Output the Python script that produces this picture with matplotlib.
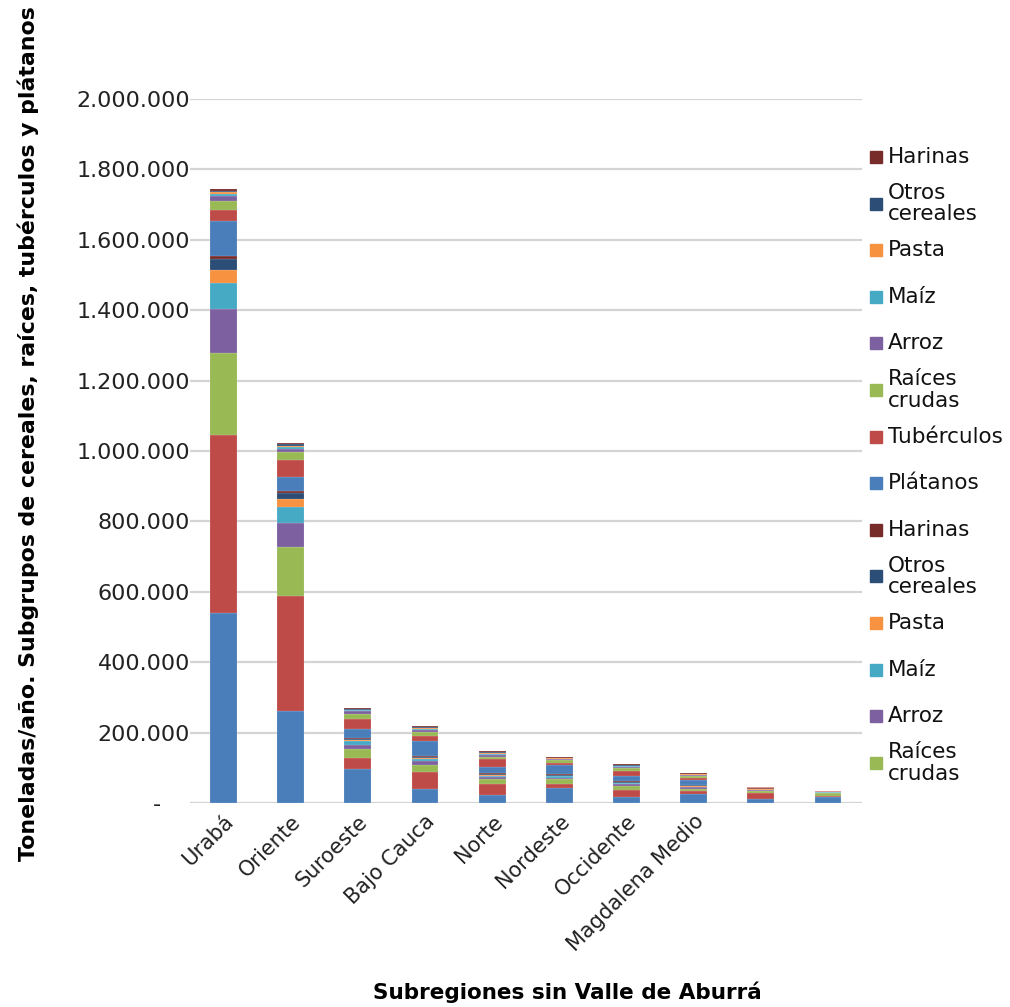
import matplotlib
matplotlib.use("Agg")
import matplotlib.pyplot as plt
from matplotlib.patches import Rectangle
import numpy as np

# Subregiones (las dos últimas barras no llevan etiqueta)
subregiones = ["Urabá", "Oriente", "Suroeste", "Bajo Cauca", "Norte", "Nordeste",
               "Occidente", "Magdalena Medio", "", ""]

productos = ["Plátanos", "Tubérculos", "Raíces\ncrudas", "Arroz", "Maíz", "Pasta",
             "Otros\ncereales", "Harinas"]
colores = ["#4A7EBB", "#BE4B48", "#98B954", "#7D60A0", "#46AAC5", "#F69240",
           "#2C4D75", "#772C2A"]

# Primer grupo (miles de toneladas/año)
platanos_1 = [541, 261, 97, 39, 24, 43, 16, 26, 11, 16]
tuberculos_1 = [505, 328, 32, 50, 31, 12, 22, 7, 17, 4]
raices_1 = [233, 137, 24, 19, 13, 13, 10, 7, 7, 8]
arroz_1 = [125, 70, 13, 12, 5, 4, 5, 4, 2, 1]
maiz_1 = [72, 45, 9, 5, 4, 4, 3, 2, 1, 1]
pasta_1 = [39, 22, 5, 3, 3, 1, 2, 1, 1, 0.5]
otros_1 = [30, 17, 3, 3, 3, 3, 3, 3, 2, 1]
harinas_1 = [10, 7, 2, 2, 2, 1, 1, 1, 1, 0.5]

# Segundo grupo
platanos_2 = [99, 40, 24, 44, 16, 26, 14, 15, 1, 0.5]
tuberculos_2 = [32, 48, 30, 12, 23, 7, 16, 4, 1, 0.5]
raices_2 = [25, 23, 15, 12, 8, 7, 6, 7, 0.5, 0.5]
arroz_2 = [12, 9, 6, 6, 4, 3, 4, 2, 0.5, 0.3]
maiz_2 = [8, 5, 3, 3, 4, 2, 2, 1, 0.3, 0.2]
pasta_2 = [4, 3, 2, 3, 3, 1, 1, 1, 0.2, 0.2]
otros_2 = [3, 5, 3, 2, 2, 2, 3, 2, 0.3, 0.2]
harinas_2 = [5, 4, 3, 3, 2, 2, 2, 1, 0.3, 0.2]

grupo_1 = [platanos_1, tuberculos_1, raices_1, arroz_1, maiz_1, pasta_1, otros_1, harinas_1]
grupo_2 = [platanos_2, tuberculos_2, raices_2, arroz_2, maiz_2, pasta_2, otros_2, harinas_2]

yticks = np.arange(0, 2000001, 200000)
ytick_labels = ["-    "] + [f"{v:,}".replace(",", ".") for v in yticks[1:]]

fig = plt.figure(figsize=(10.10, 10.07), dpi=100)
ax = fig.add_axes([0.188, 0.2026, 0.665, 0.6991])

x = np.arange(len(subregiones))
base = np.zeros(len(subregiones))
handles = []
for grupo in (grupo_1, grupo_2):
    for nombre, color, serie in zip(productos, colores, grupo):
        vals = np.array(serie) * 1000
        ax.bar(x, vals, 0.4, bottom=base, color=color,
               edgecolor=(1, 1, 1, 0.35), linewidth=0.3, zorder=3)
        handles.append((nombre, color))
        base += vals

ax.set_xlim(-0.5, len(subregiones) - 0.5)
ax.set_ylim(0, 2000000)
ax.set_yticks(yticks)
ax.set_yticklabels(ytick_labels, fontsize=16, color="#222222")
ax.yaxis.grid(True, color="#D4D4D4", linewidth=1.6, zorder=0)
ax.tick_params(axis="y", length=0, pad=0)
ax.tick_params(axis="x", length=0, pad=6)
for s in ax.spines.values():
    s.set_visible(False)

ax.set_xticks(x)
ax.set_xticklabels(subregiones, rotation=45, ha="right", rotation_mode="anchor",
                   fontsize=15, color="#222222")

ax.set_ylabel("Toneladas/año. Subgrupos de cereales, raíces, tubérculos y plátanos",
              fontsize=15.8, fontweight="bold")
ax.yaxis.set_label_coords(-0.225, 0.524)
fig.text(0.562, 0.004, "Subregiones sin Valle de Aburrá", fontsize=15.5,
         fontweight="bold", ha="center", va="bottom")

# Leyenda en orden inverso; las dos últimas entradas quedan fuera
entradas = handles[::-1][:14]
y0 = 1 - 157 / 1007
paso = 46.6 / 1007
for i, (nombre, color) in enumerate(entradas):
    yc = y0 - i * paso
    fig.add_artist(Rectangle((870 / 1010, yc - 6 / 1007), 12 / 1010, 12 / 1007,
                             transform=fig.transFigure, color=color))
    fig.text(888 / 1010, yc, nombre, fontsize=15.5, va="center", ha="left",
             color="#111111", linespacing=1.1)

fig.savefig("out.png", dpi=100)
